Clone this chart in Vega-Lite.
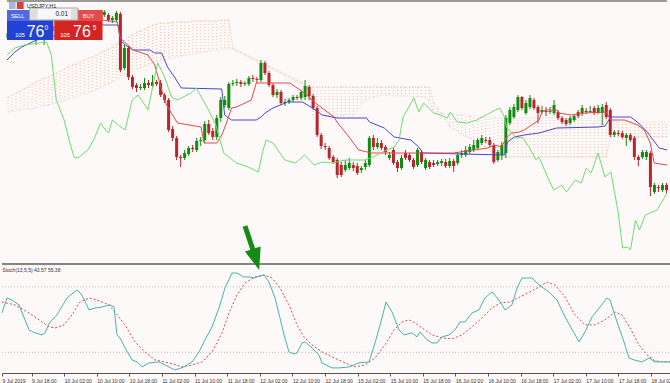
{
"$schema":"https://vega.github.io/schema/vega-lite/v6.json",
"background":"#fdf9f9",
"padding":0,
"spacing":0,
"bounds":"flush",
"resolve":{"scale":{"x":"independent","y":"independent"}},
"config":{"view":{"stroke":null},"text":{"font":"Liberation Sans"},"axis":{"labelFont":"Liberation Sans"}},
"datasets":{
"candles":[
{"i":0,"o":109.62,"h":109.70,"l":109.61,"c":109.67},
{"i":1,"o":109.67,"h":109.73,"l":109.64,"c":109.70},
{"i":2,"o":109.70,"h":109.74,"l":109.63,"c":109.66},
{"i":3,"o":109.66,"h":109.75,"l":109.64,"c":109.72},
{"i":4,"o":109.72,"h":109.76,"l":109.67,"c":109.69},
{"i":5,"o":109.69,"h":109.71,"l":109.62,"c":109.64},
{"i":6,"o":109.64,"h":109.67,"l":109.60,"c":109.61},
{"i":7,"o":109.61,"h":109.68,"l":109.55,"c":109.65},
{"i":8,"o":109.65,"h":109.67,"l":109.60,"c":109.62},
{"i":9,"o":109.62,"h":109.66,"l":109.55,"c":109.64},
{"i":10,"o":109.64,"h":109.72,"l":109.62,"c":109.70},
{"i":11,"o":109.70,"h":109.77,"l":109.68,"c":109.74},
{"i":12,"o":109.74,"h":109.78,"l":109.69,"c":109.72},
{"i":13,"o":109.72,"h":109.81,"l":109.70,"c":109.78},
{"i":14,"o":109.78,"h":109.82,"l":109.73,"c":109.76},
{"i":15,"o":109.76,"h":109.85,"l":109.74,"c":109.81},
{"i":16,"o":109.81,"h":109.84,"l":109.75,"c":109.79},
{"i":17,"o":109.79,"h":109.86,"l":109.77,"c":109.83},
{"i":18,"o":109.83,"h":109.87,"l":109.78,"c":109.80},
{"i":19,"o":109.80,"h":109.88,"l":109.78,"c":109.84},
{"i":20,"o":109.84,"h":109.89,"l":109.79,"c":109.82},
{"i":21,"o":109.82,"h":109.88,"l":109.80,"c":109.85},
{"i":22,"o":109.85,"h":109.89,"l":109.81,"c":109.83},
{"i":23,"o":109.83,"h":109.90,"l":109.81,"c":109.86},
{"i":24,"o":109.85,"h":109.90,"l":109.83,"c":109.88},
{"i":25,"o":109.85,"h":109.87,"l":109.78,"c":109.80},
{"i":26,"o":109.80,"h":109.84,"l":109.77,"c":109.82},
{"i":27,"o":109.80,"h":109.89,"l":109.78,"c":109.87},
{"i":28,"o":109.86,"h":109.88,"l":109.28,"c":109.30},
{"i":29,"o":109.32,"h":109.55,"l":109.30,"c":109.52},
{"i":30,"o":109.52,"h":109.54,"l":109.20,"c":109.23},
{"i":31,"o":109.23,"h":109.25,"l":109.11,"c":109.13},
{"i":32,"o":109.15,"h":109.17,"l":109.08,"c":109.12},
{"i":33,"o":109.12,"h":109.16,"l":109.10,"c":109.13},
{"i":34,"o":109.12,"h":109.22,"l":109.10,"c":109.17},
{"i":35,"o":109.17,"h":109.20,"l":109.12,"c":109.15},
{"i":36,"o":109.14,"h":109.25,"l":109.12,"c":109.18},
{"i":37,"o":109.18,"h":109.20,"l":109.14,"c":109.16},
{"i":38,"o":109.17,"h":109.20,"l":109.03,"c":109.05},
{"i":39,"o":109.05,"h":109.07,"l":108.97,"c":109.00},
{"i":40,"o":109.00,"h":109.02,"l":108.68,"c":108.70},
{"i":41,"o":108.71,"h":108.74,"l":108.59,"c":108.62},
{"i":42,"o":108.62,"h":108.64,"l":108.40,"c":108.43},
{"i":43,"o":108.43,"h":108.45,"l":108.33,"c":108.42},
{"i":44,"o":108.42,"h":108.50,"l":108.40,"c":108.47},
{"i":45,"o":108.46,"h":108.54,"l":108.44,"c":108.52},
{"i":46,"o":108.52,"h":108.55,"l":108.48,"c":108.51},
{"i":47,"o":108.50,"h":108.62,"l":108.48,"c":108.59},
{"i":48,"o":108.59,"h":108.63,"l":108.54,"c":108.60},
{"i":49,"o":108.60,"h":108.79,"l":108.57,"c":108.76},
{"i":50,"o":108.76,"h":108.80,"l":108.65,"c":108.67},
{"i":51,"o":108.69,"h":108.72,"l":108.60,"c":108.63},
{"i":52,"o":108.63,"h":108.85,"l":108.60,"c":108.82},
{"i":53,"o":108.82,"h":109.03,"l":108.78,"c":109.00},
{"i":54,"o":108.95,"h":109.04,"l":108.92,"c":109.00},
{"i":55,"o":108.92,"h":109.18,"l":108.90,"c":109.16},
{"i":56,"o":109.16,"h":109.20,"l":109.14,"c":109.17},
{"i":57,"o":109.17,"h":109.21,"l":109.14,"c":109.18},
{"i":58,"o":109.18,"h":109.20,"l":109.13,"c":109.16},
{"i":59,"o":109.16,"h":109.19,"l":109.14,"c":109.17},
{"i":60,"o":109.16,"h":109.24,"l":109.14,"c":109.22},
{"i":61,"o":109.22,"h":109.25,"l":109.18,"c":109.21},
{"i":62,"o":109.21,"h":109.23,"l":109.17,"c":109.20},
{"i":63,"o":109.20,"h":109.40,"l":109.18,"c":109.37},
{"i":64,"o":109.37,"h":109.39,"l":109.25,"c":109.27},
{"i":65,"o":109.27,"h":109.29,"l":109.13,"c":109.15},
{"i":66,"o":109.15,"h":109.17,"l":109.03,"c":109.05},
{"i":67,"o":109.05,"h":109.11,"l":109.02,"c":109.08},
{"i":68,"o":109.08,"h":109.10,"l":108.95,"c":108.97},
{"i":69,"o":108.97,"h":109.01,"l":108.94,"c":108.98},
{"i":70,"o":108.98,"h":109.02,"l":108.96,"c":109.00},
{"i":71,"o":109.00,"h":109.05,"l":108.98,"c":109.03},
{"i":72,"o":109.03,"h":109.05,"l":109.00,"c":109.02},
{"i":73,"o":109.02,"h":109.10,"l":109.00,"c":109.08},
{"i":74,"o":109.03,"h":109.20,"l":109.00,"c":109.14},
{"i":75,"o":109.13,"h":109.15,"l":109.00,"c":109.04},
{"i":76,"o":109.04,"h":109.06,"l":108.90,"c":108.92},
{"i":77,"o":108.92,"h":108.94,"l":108.63,"c":108.65},
{"i":78,"o":108.65,"h":108.67,"l":108.51,"c":108.54},
{"i":79,"o":108.54,"h":108.57,"l":108.50,"c":108.53},
{"i":80,"o":108.52,"h":108.54,"l":108.40,"c":108.42},
{"i":81,"o":108.43,"h":108.45,"l":108.36,"c":108.38},
{"i":82,"o":108.40,"h":108.42,"l":108.22,"c":108.25},
{"i":83,"o":108.35,"h":108.38,"l":108.23,"c":108.25},
{"i":84,"o":108.30,"h":108.40,"l":108.28,"c":108.35},
{"i":85,"o":108.32,"h":108.42,"l":108.30,"c":108.37},
{"i":86,"o":108.35,"h":108.38,"l":108.29,"c":108.32},
{"i":87,"o":108.34,"h":108.37,"l":108.25,"c":108.27},
{"i":88,"o":108.30,"h":108.34,"l":108.27,"c":108.32},
{"i":89,"o":108.33,"h":108.40,"l":108.30,"c":108.37},
{"i":90,"o":108.35,"h":108.64,"l":108.33,"c":108.62},
{"i":91,"o":108.62,"h":108.65,"l":108.50,"c":108.53},
{"i":92,"o":108.53,"h":108.62,"l":108.51,"c":108.57},
{"i":93,"o":108.57,"h":108.60,"l":108.50,"c":108.52},
{"i":94,"o":108.53,"h":108.55,"l":108.45,"c":108.48},
{"i":95,"o":108.42,"h":108.48,"l":108.40,"c":108.45},
{"i":96,"o":108.50,"h":108.52,"l":108.35,"c":108.37},
{"i":97,"o":108.38,"h":108.40,"l":108.28,"c":108.32},
{"i":98,"o":108.32,"h":108.45,"l":108.30,"c":108.42},
{"i":99,"o":108.47,"h":108.50,"l":108.40,"c":108.42},
{"i":100,"o":108.45,"h":108.47,"l":108.38,"c":108.40},
{"i":101,"o":108.40,"h":108.42,"l":108.31,"c":108.33},
{"i":102,"o":108.35,"h":108.52,"l":108.33,"c":108.50},
{"i":103,"o":108.48,"h":108.50,"l":108.36,"c":108.38},
{"i":104,"o":108.32,"h":108.42,"l":108.30,"c":108.40},
{"i":105,"o":108.38,"h":108.40,"l":108.31,"c":108.33},
{"i":106,"o":108.37,"h":108.40,"l":108.33,"c":108.35},
{"i":107,"o":108.36,"h":108.40,"l":108.34,"c":108.38},
{"i":108,"o":108.37,"h":108.41,"l":108.34,"c":108.39},
{"i":109,"o":108.38,"h":108.41,"l":108.32,"c":108.34},
{"i":110,"o":108.34,"h":108.42,"l":108.32,"c":108.39},
{"i":111,"o":108.39,"h":108.41,"l":108.28,"c":108.34},
{"i":112,"o":108.37,"h":108.48,"l":108.35,"c":108.45},
{"i":113,"o":108.45,"h":108.50,"l":108.42,"c":108.47},
{"i":114,"o":108.45,"h":108.54,"l":108.43,"c":108.50},
{"i":115,"o":108.48,"h":108.56,"l":108.46,"c":108.53},
{"i":116,"o":108.50,"h":108.60,"l":108.48,"c":108.55},
{"i":117,"o":108.52,"h":108.62,"l":108.50,"c":108.60},
{"i":118,"o":108.57,"h":108.65,"l":108.55,"c":108.62},
{"i":119,"o":108.60,"h":108.63,"l":108.57,"c":108.59},
{"i":120,"o":108.60,"h":108.63,"l":108.53,"c":108.55},
{"i":121,"o":108.55,"h":108.57,"l":108.36,"c":108.38},
{"i":122,"o":108.40,"h":108.50,"l":108.38,"c":108.48},
{"i":123,"o":108.45,"h":108.58,"l":108.40,"c":108.55},
{"i":124,"o":108.47,"h":108.85,"l":108.42,"c":108.82},
{"i":125,"o":108.77,"h":108.93,"l":108.75,"c":108.90},
{"i":126,"o":108.83,"h":108.96,"l":108.81,"c":108.93},
{"i":127,"o":108.90,"h":109.05,"l":108.88,"c":109.03},
{"i":128,"o":109.03,"h":109.04,"l":108.90,"c":108.92},
{"i":129,"o":108.87,"h":109.00,"l":108.85,"c":108.97},
{"i":130,"o":108.93,"h":109.05,"l":108.91,"c":109.02},
{"i":131,"o":109.00,"h":109.02,"l":108.90,"c":108.92},
{"i":132,"o":108.93,"h":108.95,"l":108.77,"c":108.87},
{"i":133,"o":108.88,"h":108.94,"l":108.86,"c":108.90},
{"i":134,"o":108.89,"h":108.93,"l":108.84,"c":108.88},
{"i":135,"o":108.88,"h":108.93,"l":108.86,"c":108.89},
{"i":136,"o":108.87,"h":109.00,"l":108.85,"c":108.95},
{"i":137,"o":108.88,"h":108.90,"l":108.80,"c":108.82},
{"i":138,"o":108.82,"h":108.84,"l":108.76,"c":108.78},
{"i":139,"o":108.80,"h":108.82,"l":108.74,"c":108.76},
{"i":140,"o":108.77,"h":108.84,"l":108.75,"c":108.82},
{"i":141,"o":108.80,"h":108.86,"l":108.78,"c":108.84},
{"i":142,"o":108.88,"h":108.90,"l":108.82,"c":108.84},
{"i":143,"o":108.87,"h":108.95,"l":108.84,"c":108.92},
{"i":144,"o":108.89,"h":108.92,"l":108.86,"c":108.88},
{"i":145,"o":108.88,"h":108.94,"l":108.87,"c":108.89},
{"i":146,"o":108.92,"h":108.94,"l":108.85,"c":108.87},
{"i":147,"o":108.87,"h":108.95,"l":108.86,"c":108.92},
{"i":148,"o":108.87,"h":108.96,"l":108.75,"c":108.93},
{"i":149,"o":108.95,"h":108.98,"l":108.81,"c":108.83},
{"i":150,"o":108.90,"h":108.92,"l":108.63,"c":108.65},
{"i":151,"o":108.65,"h":108.70,"l":108.63,"c":108.68},
{"i":152,"o":108.67,"h":108.70,"l":108.64,"c":108.66},
{"i":153,"o":108.67,"h":108.69,"l":108.61,"c":108.63},
{"i":154,"o":108.62,"h":108.67,"l":108.54,"c":108.65},
{"i":155,"o":108.65,"h":108.67,"l":108.58,"c":108.60},
{"i":156,"o":108.62,"h":108.64,"l":108.40,"c":108.43},
{"i":157,"o":108.43,"h":108.45,"l":108.34,"c":108.40},
{"i":158,"o":108.43,"h":108.50,"l":108.41,"c":108.48},
{"i":159,"o":108.43,"h":108.50,"l":108.40,"c":108.48},
{"i":160,"o":108.47,"h":108.49,"l":108.04,"c":108.13},
{"i":161,"o":108.08,"h":108.17,"l":108.06,"c":108.15},
{"i":162,"o":108.13,"h":108.15,"l":108.08,"c":108.12},
{"i":163,"o":108.10,"h":108.17,"l":108.08,"c":108.15},
{"i":164,"o":108.15,"h":108.17,"l":108.07,"c":108.10}
],
"cloud":[
{"i":0,"a":109.03,"b":108.88},{"i":1,"a":109.05,"b":108.89},{"i":2,"a":109.07,"b":108.89},{"i":3,"a":109.09,"b":108.90},{"i":4,"a":109.11,"b":108.90},
{"i":5,"a":109.13,"b":108.91},{"i":6,"a":109.16,"b":108.91},{"i":7,"a":109.18,"b":108.92},{"i":8,"a":109.20,"b":108.93},{"i":9,"a":109.22,"b":108.94},
{"i":10,"a":109.23,"b":108.95},{"i":11,"a":109.25,"b":108.96},{"i":12,"a":109.27,"b":108.97},{"i":13,"a":109.29,"b":108.98},{"i":14,"a":109.31,"b":108.99},
{"i":15,"a":109.33,"b":109.01},{"i":16,"a":109.35,"b":109.02},{"i":17,"a":109.36,"b":109.03},{"i":18,"a":109.38,"b":109.05},{"i":19,"a":109.40,"b":109.06},
{"i":20,"a":109.42,"b":109.07},{"i":21,"a":109.43,"b":109.09},{"i":22,"a":109.45,"b":109.10},{"i":23,"a":109.47,"b":109.12},{"i":24,"a":109.49,"b":109.14},
{"i":25,"a":109.51,"b":109.16},{"i":26,"a":109.53,"b":109.18},{"i":27,"a":109.56,"b":109.20},{"i":28,"a":109.58,"b":109.22},{"i":29,"a":109.60,"b":109.25},
{"i":30,"a":109.63,"b":109.27},{"i":31,"a":109.65,"b":109.29},{"i":32,"a":109.68,"b":109.31},{"i":33,"a":109.69,"b":109.32},{"i":34,"a":109.71,"b":109.34},
{"i":35,"a":109.73,"b":109.35},{"i":36,"a":109.75,"b":109.37},{"i":37,"a":109.76,"b":109.38},{"i":38,"a":109.77,"b":109.39},{"i":39,"a":109.77,"b":109.40},
{"i":40,"a":109.77,"b":109.41},{"i":41,"a":109.78,"b":109.42},{"i":42,"a":109.78,"b":109.43},{"i":43,"a":109.78,"b":109.44},{"i":44,"a":109.78,"b":109.45},
{"i":45,"a":109.78,"b":109.45},{"i":46,"a":109.79,"b":109.46},{"i":47,"a":109.79,"b":109.47},{"i":48,"a":109.79,"b":109.47},{"i":49,"a":109.79,"b":109.48},
{"i":50,"a":109.79,"b":109.49},{"i":51,"a":109.79,"b":109.49},{"i":52,"a":109.79,"b":109.50},{"i":53,"a":109.80,"b":109.50},{"i":54,"a":109.80,"b":109.51},
{"i":55,"a":109.80,"b":109.52},{"i":56,"a":109.52,"b":109.50},{"i":57,"a":109.50,"b":109.48},{"i":58,"a":109.48,"b":109.46},{"i":59,"a":109.46,"b":109.44},
{"i":60,"a":109.44,"b":109.42},{"i":61,"a":109.42,"b":109.40},{"i":62,"a":109.40,"b":109.38},{"i":63,"a":109.38,"b":109.36},{"i":64,"a":109.36,"b":109.34},
{"i":65,"a":109.34,"b":109.32},{"i":66,"a":109.32,"b":109.30},{"i":67,"a":109.30,"b":109.28},{"i":68,"a":109.28,"b":109.26},{"i":69,"a":109.26,"b":109.24},
{"i":70,"a":109.24,"b":109.22},{"i":71,"a":109.22,"b":109.20},{"i":72,"a":109.20,"b":109.18},{"i":73,"a":109.18,"b":109.16},{"i":74,"a":109.15,"b":109.13},
{"i":75,"a":109.13,"b":109.11},{"i":76,"a":109.13,"b":108.83},{"i":77,"a":109.13,"b":108.83},{"i":78,"a":109.13,"b":108.83},{"i":79,"a":109.13,"b":108.84},
{"i":80,"a":109.13,"b":108.84},{"i":81,"a":109.13,"b":108.84},{"i":82,"a":109.13,"b":108.84},{"i":83,"a":109.13,"b":108.84},{"i":84,"a":109.13,"b":108.85},
{"i":85,"a":109.13,"b":108.85},{"i":86,"a":109.13,"b":108.85},{"i":87,"a":109.13,"b":108.89},{"i":88,"a":109.13,"b":108.95},{"i":89,"a":109.13,"b":109.00},
{"i":90,"a":109.13,"b":109.01},{"i":91,"a":109.13,"b":109.03},{"i":92,"a":109.13,"b":109.04},{"i":93,"a":109.13,"b":109.05},{"i":94,"a":109.13,"b":109.05},
{"i":95,"a":109.13,"b":109.05},{"i":96,"a":109.13,"b":109.04},{"i":97,"a":109.13,"b":109.04},{"i":98,"a":109.13,"b":109.04},{"i":99,"a":109.13,"b":109.04},
{"i":100,"a":109.13,"b":109.04},{"i":101,"a":109.13,"b":109.03},{"i":102,"a":109.13,"b":109.03},{"i":103,"a":109.13,"b":109.03},{"i":104,"a":109.13,"b":109.02},
{"i":105,"a":109.13,"b":109.00},{"i":106,"a":108.97,"b":108.87},{"i":107,"a":108.92,"b":108.87},{"i":108,"a":108.86,"b":108.87},{"i":109,"a":108.80,"b":108.86},
{"i":110,"a":108.74,"b":108.86},{"i":111,"a":108.71,"b":108.86},{"i":112,"a":108.69,"b":108.85},{"i":113,"a":108.66,"b":108.85},{"i":114,"a":108.64,"b":108.85},
{"i":115,"a":108.62,"b":108.84},{"i":116,"a":108.60,"b":108.84},{"i":117,"a":108.57,"b":108.84},{"i":118,"a":108.55,"b":108.83},{"i":119,"a":108.53,"b":108.83},
{"i":120,"a":108.50,"b":108.83},{"i":121,"a":108.48,"b":108.83},{"i":122,"a":108.46,"b":108.82},{"i":123,"a":108.43,"b":108.82},{"i":124,"a":108.43,"b":108.82},
{"i":125,"a":108.43,"b":108.82},{"i":126,"a":108.43,"b":108.82},{"i":127,"a":108.43,"b":108.82},{"i":128,"a":108.43,"b":108.82},{"i":129,"a":108.43,"b":108.82},
{"i":130,"a":108.43,"b":108.82},{"i":131,"a":108.43,"b":108.82},{"i":132,"a":108.43,"b":108.82},{"i":133,"a":108.43,"b":108.82},{"i":134,"a":108.43,"b":108.82},
{"i":135,"a":108.43,"b":108.82},{"i":136,"a":108.43,"b":108.82},{"i":137,"a":108.43,"b":108.82},{"i":138,"a":108.43,"b":108.82},{"i":139,"a":108.43,"b":108.82},
{"i":140,"a":108.43,"b":108.82},{"i":141,"a":108.43,"b":108.82},{"i":142,"a":108.43,"b":108.82},{"i":143,"a":108.43,"b":108.82},{"i":144,"a":108.43,"b":108.82},
{"i":145,"a":108.43,"b":108.82},{"i":146,"a":108.43,"b":108.82},{"i":147,"a":108.43,"b":108.82},{"i":148,"a":108.43,"b":108.82},{"i":149,"a":108.43,"b":108.82},
{"i":150,"a":108.63,"b":108.78},{"i":151,"a":108.63,"b":108.78},{"i":152,"a":108.63,"b":108.78},{"i":153,"a":108.63,"b":108.78},{"i":154,"a":108.63,"b":108.78},
{"i":155,"a":108.63,"b":108.78},{"i":156,"a":108.63,"b":108.78},{"i":157,"a":108.63,"b":108.78},{"i":158,"a":108.63,"b":108.78},{"i":159,"a":108.63,"b":108.78},
{"i":160,"a":108.63,"b":108.78},{"i":161,"a":108.63,"b":108.78},{"i":162,"a":108.63,"b":108.78},{"i":163,"a":108.63,"b":108.78},{"i":164,"a":108.63,"b":108.78}
],
"kijun":[
{"i":-0.245,"p":109.40},{"i":1.72,"p":109.48},{"i":3.43,"p":109.53},{"i":7.11,"p":109.60},{"i":14.47,"p":109.67},{"i":23.55,"p":109.75},{"i":27.44,"p":109.75},{"i":27.93,"p":109.60},{"i":29.19,"p":109.55},{"i":30.42,"p":109.52},{"i":31.16,"p":109.50},{"i":35.33,"p":109.50},{"i":36.56,"p":109.47},{"i":38.27,"p":109.47},{"i":39.74,"p":109.33},{"i":41.46,"p":109.23},{"i":43.18,"p":109.12},{"i":53.24,"p":109.11},{"i":53.97,"p":108.85},{"i":55.69,"p":108.80},{"i":61.83,"p":108.80},{"i":63.05,"p":108.83},{"i":64.03,"p":108.87},{"i":66.0,"p":108.92},{"i":69.68,"p":108.98},{"i":73.36,"p":108.98},{"i":75.81,"p":108.92},{"i":78.26,"p":108.85},{"i":81.94,"p":108.82},{"i":89.3,"p":108.82},{"i":90.04,"p":108.78},{"i":93.72,"p":108.72},{"i":96.17,"p":108.63},{"i":100.34,"p":108.60},{"i":102.31,"p":108.53},{"i":103.29,"p":108.47},{"i":123.65,"p":108.45},{"i":124.39,"p":108.58},{"i":126.1,"p":108.63},{"i":128.56,"p":108.65},{"i":132.24,"p":108.67},{"i":136.65,"p":108.72},{"i":146.96,"p":108.73},{"i":148.67,"p":108.74},{"i":150.15,"p":108.83},{"i":155.05,"p":108.83},{"i":156.77,"p":108.78},{"i":159.22,"p":108.68},{"i":162.17,"p":108.52},{"i":164.13,"p":108.50}
],
"tenkan":[
{"i":-0.245,"p":109.65},{"i":12.02,"p":109.70},{"i":23.55,"p":109.80},{"i":27.23,"p":109.78},{"i":27.97,"p":109.62},{"i":31.16,"p":109.50},{"i":34.84,"p":109.45},{"i":36.56,"p":109.35},{"i":38.27,"p":109.10},{"i":39.5,"p":108.95},{"i":40.97,"p":108.85},{"i":42.2,"p":108.77},{"i":48.09,"p":108.73},{"i":48.82,"p":108.57},{"i":52.01,"p":108.57},{"i":53.24,"p":108.65},{"i":54.22,"p":108.75},{"i":55.69,"p":108.92},{"i":56.92,"p":108.93},{"i":60.6,"p":109.00},{"i":61.83,"p":109.17},{"i":70.17,"p":109.17},{"i":73.85,"p":109.07},{"i":76.55,"p":108.97},{"i":81.21,"p":108.83},{"i":81.94,"p":108.78},{"i":85.13,"p":108.62},{"i":87.34,"p":108.50},{"i":90.53,"p":108.47},{"i":110.89,"p":108.47},{"i":119.48,"p":108.52},{"i":121.2,"p":108.55},{"i":122.91,"p":108.53},{"i":124.14,"p":108.62},{"i":125.37,"p":108.67},{"i":127.33,"p":108.68},{"i":128.56,"p":108.70},{"i":132.24,"p":108.80},{"i":132.97,"p":108.88},{"i":133.95,"p":108.90},{"i":136.65,"p":108.90},{"i":137.14,"p":108.87},{"i":140.33,"p":108.85},{"i":143.77,"p":108.87},{"i":148.92,"p":108.88},{"i":150.15,"p":108.80},{"i":153.58,"p":108.80},{"i":156.77,"p":108.75},{"i":158.49,"p":108.70},{"i":159.96,"p":108.57},{"i":160.94,"p":108.37},{"i":164.13,"p":108.35}
],
"chikou":[
{"i":-0.245,"p":109.45},{"i":1.72,"p":109.52},{"i":4.17,"p":109.55},{"i":9.6,"p":109.58},{"i":10.8,"p":109.45},{"i":12.02,"p":109.00},{"i":13.99,"p":108.80},{"i":15.21,"p":108.60},{"i":16.44,"p":108.43},{"i":17.42,"p":108.42},{"i":19.87,"p":108.50},{"i":21.34,"p":108.60},{"i":23.06,"p":108.77},{"i":24.29,"p":108.70},{"i":25.02,"p":108.67},{"i":26.01,"p":108.80},{"i":27.48,"p":108.75},{"i":29.19,"p":108.70},{"i":30.91,"p":109.00},{"i":32.38,"p":109.05},{"i":34.1,"p":108.95},{"i":34.84,"p":108.90},{"i":37.29,"p":109.37},{"i":39.01,"p":109.23},{"i":40.73,"p":109.03},{"i":42.2,"p":109.00},{"i":45.63,"p":109.07},{"i":46.86,"p":109.12},{"i":49.56,"p":108.93},{"i":51.77,"p":108.75},{"i":53.73,"p":108.47},{"i":56.92,"p":108.37},{"i":59.86,"p":108.33},{"i":62.32,"p":108.28},{"i":63.54,"p":108.50},{"i":64.28,"p":108.60},{"i":65.99,"p":108.57},{"i":67.22,"p":108.50},{"i":68.94,"p":108.40},{"i":71.64,"p":108.37},{"i":73.85,"p":108.45},{"i":76.3,"p":108.35},{"i":78.26,"p":108.38},{"i":80.72,"p":108.37},{"i":83.91,"p":108.40},{"i":88.81,"p":108.40},{"i":91.02,"p":108.43},{"i":94.21,"p":108.50},{"i":96.17,"p":108.53},{"i":97.4,"p":108.60},{"i":98.38,"p":108.83},{"i":99.85,"p":108.93},{"i":101.08,"p":109.02},{"i":102.31,"p":108.88},{"i":103.53,"p":108.97},{"i":105.99,"p":108.87},{"i":107.7,"p":108.85},{"i":109.42,"p":108.82},{"i":110.16,"p":108.88},{"i":111.88,"p":108.78},{"i":114.33,"p":108.77},{"i":116.78,"p":108.80},{"i":119.97,"p":108.87},{"i":122.42,"p":108.92},{"i":123.65,"p":108.83},{"i":124.14,"p":108.73},{"i":126.59,"p":108.62},{"i":128.07,"p":108.63},{"i":129.78,"p":108.53},{"i":131.5,"p":108.40},{"i":132.24,"p":108.43},{"i":134.69,"p":108.20},{"i":135.92,"p":108.10},{"i":137.88,"p":108.15},{"i":139.11,"p":108.08},{"i":141.32,"p":108.20},{"i":142.79,"p":108.17},{"i":144.01,"p":108.32},{"i":145.24,"p":108.27},{"i":146.96,"p":108.47},{"i":148.67,"p":108.23},{"i":150.15,"p":108.28},{"i":151.87,"p":107.90},{"i":153.09,"p":107.52},{"i":154.32,"p":107.53},{"i":155.05,"p":107.50},{"i":156.28,"p":107.80},{"i":157.26,"p":107.70},{"i":158.73,"p":107.85},{"i":161.67,"p":107.90},{"i":164.13,"p":108.07}
],
"stm":[
{"i":-0.245,"v":56.1},{"i":0.98,"v":69.8},{"i":2.21,"v":67.9},{"i":3.93,"v":63.4},{"i":6.38,"v":40.5},{"i":7.85,"v":37.8},{"i":9.57,"v":35.9},{"i":10.3,"v":37.8},{"i":11.53,"v":47.8},{"i":13.25,"v":54.3},{"i":15.7,"v":69.8},{"i":18.15,"v":77.1},{"i":19.38,"v":72.5},{"i":21.1,"v":58.8},{"i":22.57,"v":60.6},{"i":24.29,"v":61.5},{"i":26.25,"v":63.4},{"i":27.23,"v":61.5},{"i":27.97,"v":35.9},{"i":28.7,"v":33.2},{"i":29.93,"v":24.0},{"i":31.65,"v":13.0},{"i":32.88,"v":11.2},{"i":34.1,"v":6.6},{"i":35.82,"v":10.3},{"i":38.27,"v":11.2},{"i":39.74,"v":8.4},{"i":42.2,"v":3.8},{"i":44.41,"v":6.6},{"i":46.37,"v":11.2},{"i":48.09,"v":20.3},{"i":49.56,"v":31.4},{"i":51.28,"v":43.3},{"i":53,"v":60.6},{"i":54.47,"v":78.9},{"i":56.18,"v":92.6},{"i":57.41,"v":92.6},{"i":59.13,"v":89.0},{"i":60.35,"v":89.0},{"i":61.58,"v":88.1},{"i":63.05,"v":89.9},{"i":64.03,"v":90.8},{"i":65.26,"v":84.4},{"i":66.73,"v":69.8},{"i":67.96,"v":51.5},{"i":68.94,"v":35.9},{"i":70.17,"v":20.3},{"i":71.39,"v":18.5},{"i":72.13,"v":19.4},{"i":73.36,"v":28.6},{"i":74.09,"v":29.5},{"i":75.81,"v":24.0},{"i":77.53,"v":17.6},{"i":78.26,"v":10.3},{"i":80.72,"v":5.7},{"i":82.43,"v":5.7},{"i":84.89,"v":6.6},{"i":87.34,"v":10.3},{"i":89.79,"v":11.2},{"i":91.27,"v":28.6},{"i":92.98,"v":51.5},{"i":93.97,"v":66.1},{"i":95.44,"v":57.0},{"i":97.15,"v":40.5},{"i":98.38,"v":35.9},{"i":100.34,"v":37.8},{"i":101.57,"v":34.1},{"i":102.31,"v":38.7},{"i":104.02,"v":31.4},{"i":105.25,"v":28.6},{"i":106.48,"v":28.6},{"i":107.7,"v":34.1},{"i":109.42,"v":35.9},{"i":110.89,"v":40.5},{"i":112.12,"v":47.8},{"i":113.35,"v":47.8},{"i":115.06,"v":56.1},{"i":116.78,"v":58.8},{"i":118.25,"v":69.8},{"i":119.97,"v":75.3},{"i":121.69,"v":67.9},{"i":123.16,"v":58.8},{"i":124.88,"v":63.4},{"i":126.1,"v":78.9},{"i":127.33,"v":88.1},{"i":129.78,"v":88.1},{"i":131.5,"v":81.6},{"i":133.95,"v":75.3},{"i":135.92,"v":67.9},{"i":137.88,"v":52.4},{"i":140.09,"v":37.8},{"i":141.32,"v":29.5},{"i":142.79,"v":38.7},{"i":144.51,"v":52.4},{"i":146.47,"v":61.5},{"i":148.18,"v":69.8},{"i":148.92,"v":67.9},{"i":150.64,"v":47.8},{"i":152.36,"v":29.5},{"i":153.58,"v":14.8},{"i":154.81,"v":13.0},{"i":156.77,"v":11.2},{"i":158.49,"v":14.8},{"i":159.96,"v":11.2},{"i":162.41,"v":11.2},{"i":164.13,"v":11.2}
],
"sts":[
{"i":-0.245,"v":66.1},{"i":2.94,"v":63.4},{"i":6.38,"v":56.1},{"i":8.83,"v":49.7},{"i":11.29,"v":43.3},{"i":12.76,"v":42.3},{"i":14.97,"v":45.1},{"i":16.93,"v":54.3},{"i":18.89,"v":66.1},{"i":21.1,"v":69.8},{"i":23.06,"v":67.9},{"i":26.0,"v":63.4},{"i":27.97,"v":54.3},{"i":29.93,"v":45.1},{"i":32.38,"v":29.5},{"i":34.84,"v":20.3},{"i":37.29,"v":13.0},{"i":40.73,"v":10.3},{"i":43.92,"v":6.6},{"i":46.37,"v":8.4},{"i":48.82,"v":11.2},{"i":51.28,"v":20.3},{"i":53.73,"v":37.8},{"i":55.45,"v":56.1},{"i":57.41,"v":72.5},{"i":59.37,"v":83.5},{"i":61.82,"v":89.0},{"i":64.03,"v":90.8},{"i":66.0,"v":88.1},{"i":67.96,"v":78.9},{"i":70.17,"v":63.4},{"i":72.13,"v":45.1},{"i":73.85,"v":34.1},{"i":75.81,"v":26.8},{"i":78.26,"v":20.3},{"i":80.72,"v":15.8},{"i":83.91,"v":10.3},{"i":86.36,"v":6.6},{"i":88.81,"v":8.4},{"i":91.27,"v":14.8},{"i":93.72,"v":26.8},{"i":95.93,"v":40.5},{"i":97.89,"v":47.8},{"i":99.61,"v":49.7},{"i":101.08,"v":47.0},{"i":102.8,"v":42.3},{"i":105.25,"v":35.9},{"i":107.7,"v":33.2},{"i":110.16,"v":32.3},{"i":112.61,"v":35.9},{"i":115.06,"v":43.3},{"i":117.52,"v":51.5},{"i":119.97,"v":60.6},{"i":121.93,"v":65.2},{"i":124.39,"v":66.1},{"i":126.84,"v":70.7},{"i":129.29,"v":75.3},{"i":131.5,"v":79.8},{"i":133.46,"v":84.4},{"i":135.43,"v":81.6},{"i":137.88,"v":70.7},{"i":140.33,"v":54.3},{"i":142.79,"v":45.1},{"i":145.24,"v":45.1},{"i":147.69,"v":49.7},{"i":150.15,"v":57.0},{"i":151.87,"v":54.3},{"i":153.83,"v":42.3},{"i":156.04,"v":26.8},{"i":158.0,"v":17.6},{"i":159.96,"v":12.1},{"i":162.41,"v":11.2},{"i":164.13,"v":11.2}
]
},
"vconcat":[
{
"width":670,"height":263,
"encoding":{"x":{"field":"i","type":"quantitative","scale":{"domain":[-0.245,164.13],"nice":false,"zero":false},"axis":null}},
"layer":[
{"data":{"values":[{"i":-0.245,"i2":164.13,"p":109.99}]},"mark":{"type":"rule","color":"#9a9a9a","strokeWidth":2},
 "encoding":{"x2":{"field":"i2"},"y":{"field":"p","type":"quantitative","scale":{"domain":[107.37,110.0],"nice":false,"zero":false},"axis":null}}},
{"data":{"name":"cloud"},"mark":{"type":"rule","color":"#f3c2aa","strokeDash":[1,2],"strokeWidth":1},
 "encoding":{"y":{"field":"a","type":"quantitative","axis":null},"y2":{"field":"b"}}},
{"data":{"name":"cloud"},"mark":{"type":"line","color":"#f2b48c","strokeDash":[1,2],"strokeWidth":1},
 "encoding":{"y":{"field":"a","type":"quantitative","axis":null}}},
{"data":{"name":"cloud"},"mark":{"type":"line","color":"#dcc4dc","strokeDash":[1,2],"strokeWidth":1},
 "encoding":{"y":{"field":"b","type":"quantitative","axis":null}}},
{"data":{"name":"candles"},"mark":{"type":"rule","strokeWidth":1},
 "encoding":{"y":{"field":"l","type":"quantitative","axis":null},"y2":{"field":"h"},
  "color":{"condition":{"test":"datum.c >= datum.o","value":"#108c10"},"value":"#b8262a"}}},
{"data":{"name":"candles"},"mark":{"type":"bar","size":3},
 "encoding":{"y":{"field":"o","type":"quantitative","axis":null},"y2":{"field":"c"},
  "color":{"condition":{"test":"datum.c >= datum.o","value":"#108c10"},"value":"#b8262a"}}},
{"data":{"name":"kijun"},"mark":{"type":"line","color":"#4646d2","strokeWidth":1},
 "encoding":{"y":{"field":"p","type":"quantitative","axis":null}}},
{"data":{"name":"tenkan"},"mark":{"type":"line","color":"#e44848","strokeWidth":1},
 "encoding":{"y":{"field":"p","type":"quantitative","axis":null}}},
{"data":{"name":"chikou"},"mark":{"type":"line","color":"#6ede6e","strokeWidth":1},
 "encoding":{"y":{"field":"p","type":"quantitative","axis":null}}},
{"data":{"values":[
 {"i":-0.245,"i2":11.29,"p":109.90,"p2":109.60,"k":"sellbody"},
 {"i":-0.245,"i2":11.29,"p":109.90,"p2":109.79,"k":"sellstrip"},
 {"i":11.53,"i2":23.55,"p":109.90,"p2":109.60,"k":"buybody"},
 {"i":11.53,"i2":23.55,"p":109.90,"p2":109.79,"k":"buystrip"},
 {"i":5.4,"i2":17.42,"p":109.92,"p2":109.80,"k":"lot"},
 {"i":5.64,"i2":7.36,"p":109.91,"p2":109.81,"k":"btn"},
 {"i":15.7,"i2":17.42,"p":109.91,"p2":109.81,"k":"btn"},
 {"i":0.25,"i2":1.9,"p":109.98,"p2":109.91,"k":"icon1"},
 {"i":2.2,"i2":3.9,"p":109.98,"p2":109.91,"k":"icon2"}]},
 "mark":{"type":"rect"},
 "encoding":{"x2":{"field":"i2"},"y":{"field":"p","type":"quantitative","axis":null},"y2":{"field":"p2"},
  "color":{"field":"k","type":"nominal","legend":null,"scale":{"domain":["sellbody","sellstrip","buybody","buystrip","lot","btn","icon1","icon2"],"range":["#2341d2","#4c6ae2","#d42424","#e44c4c","#f7f7f7","#dedede","#a8b8dc","#d84040"]}}}},
{"data":{"values":[{"i":5.4,"i2":17.42,"p":109.92,"p2":109.80}]},"mark":{"type":"rect","fill":null,"stroke":"#a0a0a0","strokeWidth":1},
 "encoding":{"x2":{"field":"i2"},"y":{"field":"p","type":"quantitative","axis":null},"y2":{"field":"p2"}}},
{"data":{"values":[{"i":0.74,"p":109.845,"t":"SELL"},{"i":18.65,"p":109.845,"t":"BUY"}]},
 "mark":{"type":"text","align":"left","baseline":"middle","fontSize":5.5,"color":"#ffffff"},
 "encoding":{"y":{"field":"p","type":"quantitative","axis":null},"text":{"field":"t"}}},
{"data":{"values":[{"i":4.66,"p":109.945,"t":"USDJPY,H1"}]},
 "mark":{"type":"text","align":"left","baseline":"middle","fontSize":5.5,"color":"#222222"},
 "encoding":{"y":{"field":"p","type":"quantitative","axis":null},"text":{"field":"t"}}},
{"data":{"values":[{"i":14.97,"p":109.86,"t":"0.01"}]},
 "mark":{"type":"text","align":"right","baseline":"middle","fontSize":6.5,"color":"#222222"},
 "encoding":{"y":{"field":"p","type":"quantitative","axis":null},"text":{"field":"t"}}},
{"data":{"values":[{"i":1.72,"p":109.63,"t":"105"},{"i":13.0,"p":109.63,"t":"105"}]},
 "mark":{"type":"text","align":"left","baseline":"alphabetic","fontSize":6,"color":"#ffffff"},
 "encoding":{"y":{"field":"p","type":"quantitative","axis":null},"text":{"field":"t"}}},
{"data":{"values":[{"i":4.66,"p":109.63,"t":"76"},{"i":16.19,"p":109.63,"t":"76"}]},
 "mark":{"type":"text","align":"left","baseline":"alphabetic","fontSize":16,"color":"#ffffff"},
 "encoding":{"y":{"field":"p","type":"quantitative","axis":null},"text":{"field":"t"}}},
{"data":{"values":[{"i":9.08,"p":109.70,"t":"0"},{"i":21.1,"p":109.70,"t":"5"}]},
 "mark":{"type":"text","align":"left","baseline":"alphabetic","fontSize":6.5,"color":"#ffffff"},
 "encoding":{"y":{"field":"p","type":"quantitative","axis":null},"text":{"field":"t"}}}
]
},
{
"width":670,"height":110,
"encoding":{"x":{"field":"i","type":"quantitative","scale":{"domain":[-0.245,164.13],"nice":false,"zero":false},
 "axis":{"values":[-0.245,7,15,23,31,39,47,55,63,71,79,87,95,103,111,119,127,135,143,151,159],
  "labelExpr":"datum.value < 0 ? '9 Jul 2019' : ['9 Jul 18:00','10 Jul 02:00','10 Jul 10:00','10 Jul 18:00','11 Jul 02:00','11 Jul 10:00','11 Jul 18:00','12 Jul 02:00','12 Jul 10:00','12 Jul 18:00','15 Jul 02:00','15 Jul 10:00','15 Jul 18:00','16 Jul 02:00','16 Jul 10:00','16 Jul 18:00','17 Jul 02:00','17 Jul 10:00','17 Jul 18:00','18 Jul 02:00'][round((datum.value-7)/8)]",
  "labelAlign":"left","labelFontSize":5,"labelColor":"#333333","labelPadding":2,"labelOverlap":false,"labelBound":false,"labelFlush":false,
  "tickSize":3,"tickColor":"#555555","domainColor":"#555555","grid":false,"title":null}}},
"layer":[
{"data":{"values":[{"i":-0.245,"i2":164.13,"v":80},{"i":-0.245,"i2":164.13,"v":20}]},"mark":{"type":"rule","color":"#c8b8b8","strokeDash":[1,2],"strokeWidth":1},
 "encoding":{"x2":{"field":"i2"},"y":{"field":"v","type":"quantitative","scale":{"domain":[1.04,101.8],"nice":false,"zero":false},"axis":null}}},
{"data":{"name":"sts"},"mark":{"type":"line","color":"#e04848","strokeDash":[2,2],"strokeWidth":1},
 "encoding":{"y":{"field":"v","type":"quantitative","axis":null}}},
{"data":{"name":"stm"},"mark":{"type":"line","color":"#46b4ac","strokeWidth":1},
 "encoding":{"y":{"field":"v","type":"quantitative","axis":null}}},
{"data":{"values":[{"i":-0.245,"i2":164.13,"v":100.9}]},"mark":{"type":"rule","color":"#858585","strokeWidth":2},
 "encoding":{"x2":{"field":"i2"},"y":{"field":"v","type":"quantitative","axis":null}}},
{"data":{"values":[{"i":-0.1,"v":95.8,"t":"Stoch(13,5,5) 43.57 55.38"}]},
 "mark":{"type":"text","align":"left","baseline":"middle","fontSize":5,"color":"#333333"},
 "encoding":{"y":{"field":"v","type":"quantitative","axis":null},"text":{"field":"t"}}},
{"data":{"values":[{"i":59.37,"i2":61.33,"v":135.7,"v2":113.7}]},"mark":{"type":"rule","color":"#148c14","strokeWidth":5},
 "encoding":{"x2":{"field":"i2"},"y":{"field":"v","type":"quantitative","axis":null},"y2":{"field":"v2"}}},
{"data":{"values":[{"i":62.07,"v":105.0}]},"mark":{"type":"point","shape":"M-0.75,-1L0.75,-1L0,1Z","filled":true,"size":484,"angle":343,"color":"#148c14","opacity":1},
 "encoding":{"y":{"field":"v","type":"quantitative","axis":null}}}
]
}
]
}
